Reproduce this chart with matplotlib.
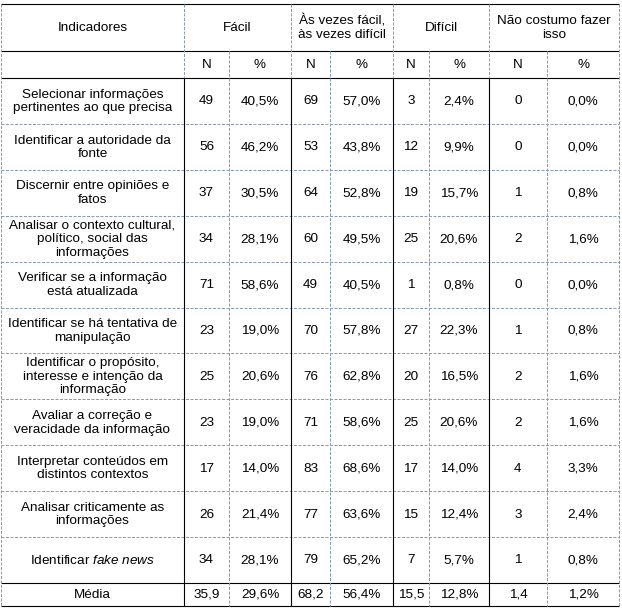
import matplotlib.pyplot as plt

plt.rcParams['font.family'] = ['Liberation Sans', 'DejaVu Sans']
plt.rcParams['mathtext.fontset'] = 'custom'
plt.rcParams['mathtext.rm'] = 'Liberation Sans'
plt.rcParams['mathtext.it'] = 'Liberation Sans:italic'

# Dados da tabela
indicadores = [
    "Selecionar informações\npertinentes ao que precisa",
    "Identificar a autoridade da\nfonte",
    "Discernir entre opiniões e\nfatos",
    "Analisar o contexto cultural,\npolítico, social das\ninformações",
    "Verificar se a informação\nestá atualizada",
    "Identificar se há tentativa de\nmanipulação",
    "Identificar o propósito,\ninteresse e intenção da\ninformação",
    "Avaliar a correção e\nveracidade da informação",
    "Interpretar conteúdos em\ndistintos contextos",
    "Analisar criticamente as\ninformações",
    "Identificar $\\mathit{fake\\ news}$",
]
grupos = ["Fácil", "Às vezes fácil,\nàs vezes difícil", "Difícil", "Não costumo fazer\nisso"]
facil_n = [49, 56, 37, 34, 71, 23, 25, 23, 17, 26, 34]
facil_p = [40.5, 46.2, 30.5, 28.1, 58.6, 19.0, 20.6, 19.0, 14.0, 21.4, 28.1]
asvezes_n = [69, 53, 64, 60, 49, 70, 76, 71, 83, 77, 79]
asvezes_p = [57.0, 43.8, 52.8, 49.5, 40.5, 57.8, 62.8, 58.6, 68.6, 63.6, 65.2]
dificil_n = [3, 12, 19, 25, 1, 27, 20, 25, 17, 15, 7]
dificil_p = [2.4, 9.9, 15.7, 20.6, 0.8, 22.3, 16.5, 20.6, 14.0, 12.4, 5.7]
naocost_n = [0, 0, 1, 2, 0, 1, 2, 2, 4, 3, 1]
naocost_p = [0.0, 0.0, 0.8, 1.6, 0.0, 0.8, 1.6, 1.6, 3.3, 2.4, 0.8]
media = [35.9, 29.6, 68.2, 56.4, 15.5, 12.8, 1.4, 1.2]

# Layout (pixel)
col_x = [1, 184, 229, 291, 330, 393, 429, 489, 547, 619]
top = 4
h_head1, h_head2, h_row, h_media = 47, 27, 45.9, 23
FS = 9.7
DASH = '#8a9bb6'

fig = plt.figure(figsize=(6.22, 6.10), dpi=100)
ax = fig.add_axes([0, 0, 1, 1])
ax.set_xlim(0, 622)
ax.set_ylim(610, 0)
ax.axis('off')

n_rows = len(indicadores)
row_y = [top, top + h_head1, top + h_head1 + h_head2]
for i in range(n_rows):
    row_y.append(row_y[-1] + h_row)
row_y.append(row_y[-1] + h_media)
y_bottom = row_y[-1]


def fmt_n(v):
    return str(v).replace('.', ',')


def fmt_p(v):
    return f"{v:.1f}".replace('.', ',') + '%'


def hline(y, x0, x1, solid):
    if solid:
        ax.plot([x0, x1], [y, y], color='black', lw=0.8, solid_capstyle='butt')
    else:
        ax.plot([x0, x1], [y, y], color=DASH, lw=0.72, ls=(0, (3, 1.5)))


def vline(x, y0, y1, solid):
    if solid:
        ax.plot([x, x], [y0, y1], color='black', lw=0.8, solid_capstyle='butt')
    else:
        ax.plot([x, x], [y0, y1], color=DASH, lw=0.72, ls=(0, (3, 1.5)))


def cell_text(x0, x1, y0, y1, s, **kw):
    ax.text((x0 + x1) / 2, (y0 + y1) / 2 + 0.5, s, ha='center', va='center',
            fontsize=FS, linespacing=1.18, color='black', **kw)


# Cabeçalho
cell_text(col_x[0], col_x[1], row_y[0], row_y[1], "Indicadores")
for g, nome in enumerate(grupos):
    cell_text(col_x[1 + 2 * g], col_x[3 + 2 * g], row_y[0], row_y[1], nome)
    cell_text(col_x[1 + 2 * g], col_x[2 + 2 * g], row_y[1], row_y[2], "N")
    cell_text(col_x[2 + 2 * g], col_x[3 + 2 * g], row_y[1], row_y[2], "%")

# Linhas de dados
series = [(facil_n, facil_p), (asvezes_n, asvezes_p), (dificil_n, dificil_p), (naocost_n, naocost_p)]
for i, ind in enumerate(indicadores):
    y0, y1 = row_y[2 + i], row_y[3 + i]
    cell_text(col_x[0], col_x[1], y0, y1, ind)
    for g, (ns, ps) in enumerate(series):
        cell_text(col_x[1 + 2 * g], col_x[2 + 2 * g], y0, y1, fmt_n(ns[i]))
        cell_text(col_x[2 + 2 * g], col_x[3 + 2 * g], y0, y1, fmt_p(ps[i]))

# Média
y0, y1 = row_y[-2], row_y[-1]
cell_text(col_x[0], col_x[1], y0, y1, "Média")
for k, v in enumerate(media):
    s = fmt_n(v) if k % 2 == 0 else fmt_p(v)
    cell_text(col_x[1 + k], col_x[2 + k], y0, y1, s)

# Bordas horizontais
hline(row_y[0], col_x[0], col_x[-1], True)
hline(row_y[1], col_x[0], col_x[-1], True)
hline(row_y[2], col_x[0], col_x[-1], True)
for i in range(1, n_rows):
    hline(row_y[2 + i], col_x[0], col_x[-1], False)
hline(row_y[-2], col_x[0], col_x[-1], True)
hline(row_y[-1], col_x[0], col_x[-1], True)

# Bordas verticais
vline(col_x[0], row_y[0], y_bottom, False)
vline(col_x[-1], row_y[0], y_bottom, False)
for k in range(1, len(col_x) - 1):
    if k % 2 == 1:
        vline(col_x[k], row_y[0], row_y[2], False)
        vline(col_x[k], row_y[2], y_bottom, True)
    else:
        vline(col_x[k], row_y[1], y_bottom, False)

fig.savefig('out.png', dpi=100)
